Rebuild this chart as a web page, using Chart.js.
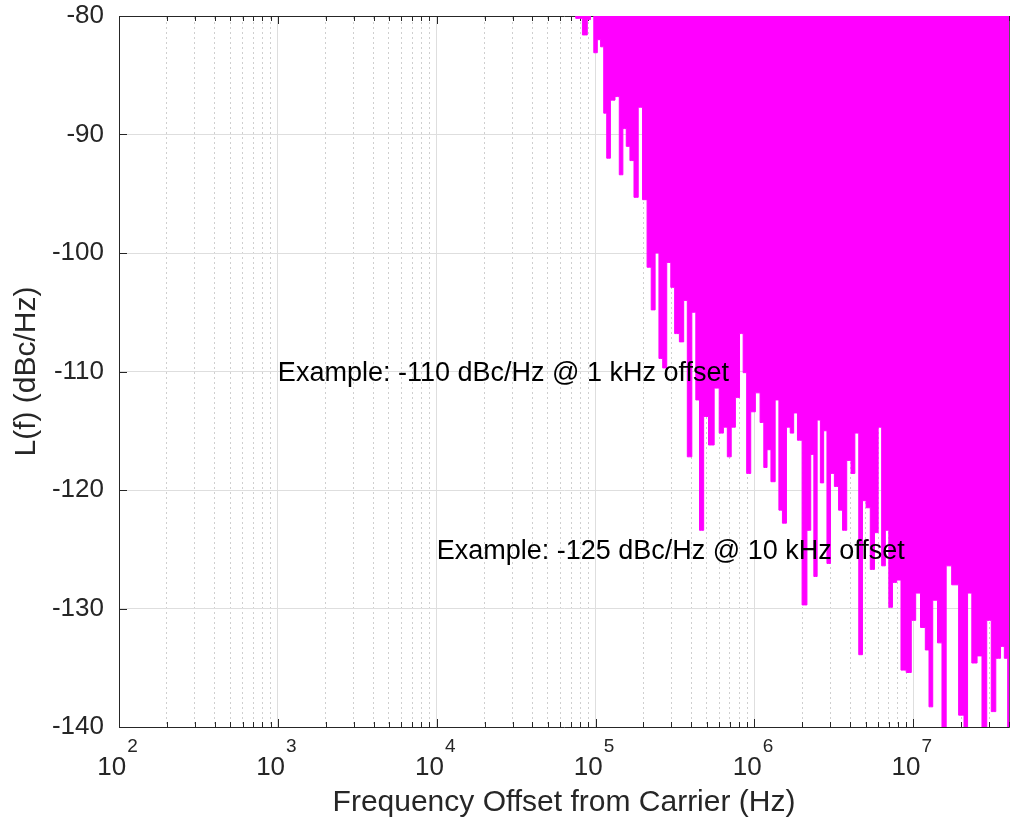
<!DOCTYPE html>
<html>
<head>
<meta charset="utf-8">
<script src="https://cdn.jsdelivr.net/npm/chart.js@4.4.1/dist/chart.umd.min.js"></script>
<style>
  html, body { margin: 0; padding: 0; background: #fff; }
  #caja { width: 1015px; height: 825px; }
</style>
</head>
<body>
<div id="caja"><canvas id="miGrafica"></canvas></div>
<script>
// lower edge of the noise trace (Hz, dBc/Hz)
const freqHz = [
  7.13e4, 7.89e4, 8.65e4, 9.08e4, 9.49e4, 1.00e5, 1.05e5, 1.10e5, 1.15e5, 1.20e5,
  1.28e5, 1.37e5, 1.45e5, 1.52e5, 1.60e5, 1.69e5, 1.80e5, 1.91e5, 2.04e5, 2.18e5,
  2.30e5, 2.44e5, 2.57e5, 2.72e5, 2.89e5, 3.06e5, 3.23e5, 3.51e5, 3.66e5, 3.90e5,
  4.17e5, 4.38e5, 4.64e5, 4.94e5, 5.34e5, 5.82e5, 6.18e5, 6.57e5, 6.93e5, 7.35e5,
  7.82e5, 8.29e5, 8.69e5, 9.18e5, 9.77e5, 1.05e6, 1.12e6, 1.17e6, 1.23e6, 1.31e6,
  1.39e6, 1.46e6, 1.54e6, 1.64e6, 1.72e6, 1.81e6, 1.92e6, 2.07e6, 2.21e6, 2.31e6,
  2.42e6, 2.54e6, 2.66e6, 2.79e6, 2.93e6, 3.09e6, 3.28e6, 3.49e6, 3.68e6, 3.94e6,
  4.17e6, 4.40e6, 4.67e6, 4.90e6, 5.19e6, 5.53e6, 5.86e6, 6.15e6, 6.49e6, 6.84e6,
  7.18e6, 7.60e6, 8.10e6, 8.63e6, 9.42e6, 1.00e7, 1.07e7, 1.15e7, 1.23e7, 1.28e7,
  1.37e7, 1.47e7, 1.56e7, 1.66e7, 1.83e7, 2.03e7, 2.14e7, 2.25e7, 2.42e7, 2.62e7,
  2.79e7, 3.01e7, 3.18e7, 3.43e7, 3.65e7, 3.83e7, 4.02e7
];
const levelDbc = [
  -79.0, -80.2, -81.6, -80.3, -79.8, -83.1, -82.0, -82.6, -88.2, -92.0,
  -87.1, -86.8, -93.4, -89.5, -91.0, -92.2, -95.3, -87.7, -95.5, -101.2,
  -104.8, -100.0, -108.9, -109.7, -100.8, -102.9, -106.8, -107.5, -104.0, -117.2,
  -105.0, -112.4, -123.4, -113.8, -116.2, -111.4, -115.2, -114.7, -117.2, -114.7,
  -112.2, -106.8, -110.1, -118.6, -113.4, -111.8, -114.3, -118.1, -116.6, -119.3,
  -112.4, -121.7, -122.8, -114.7, -115.2, -113.5, -115.8, -129.7, -123.4, -117.0,
  -127.3, -114.1, -119.4, -115.0, -126.2, -118.6, -119.7, -121.7, -123.4, -117.5,
  -118.6, -115.2, -133.9, -120.9, -121.5, -126.7, -123.6, -114.7, -126.4, -123.4,
  -129.9, -127.8, -127.6, -135.2, -135.4, -131.0, -128.7, -131.6, -133.5, -138.3,
  -129.3, -132.9, -141.0, -126.4, -128.0, -139.0, -141.0, -128.7, -134.6, -134.0,
  -141.0, -131.0, -138.7, -134.2, -133.2, -134.2, -141.0
];

const xDecades = [1e2, 1e3, 1e4, 1e5, 1e6, 1e7];
const xExponents = ['2', '3', '4', '5', '6', '7'];
const yTicks = [-140, -130, -120, -110, -100, -90, -80];

const noteText = ['Example: -110 dBc/Hz @ 1 kHz offset', 'Example: -125 dBc/Hz @ 10 kHz offset'];
const noteFreq = [1e3, 1e4];
const noteLevel = [-110, -125];

const xMin = 1e2;
const xMax = 4e7;
const fuente = "'Liberation Sans', Arial, Helvetica, sans-serif";
const gris = '#262626';

// 1..9 x each decade, for the grid
function marcasLog() {
  const v = [];
  xDecades.forEach(d => {
    for (let k = 1; k <= 9; k++) {
      if (k * d <= xMax) v.push(k * d);
    }
  });
  return v;
}
const esDecada = v => xDecades.some(d => Math.abs(d - v) < d * 1e-6);

const puntos = freqHz.map((f, i) => ({x: f, y: levelDbc[i]}));

const adornos = {
  id: 'adornos',
  beforeDatasetsDraw(chart) {
    const {ctx, chartArea: a, scales: {x, y}} = chart;
    ctx.save();
    ctx.strokeStyle = gris;
    ctx.lineWidth = 1;
    ctx.beginPath();
    marcasLog().forEach(v => {
      const px = Math.round(x.getPixelForValue(v)) + 0.5;
      const len = esDecada(v) ? 8 : 5;
      ctx.moveTo(px, a.bottom); ctx.lineTo(px, a.bottom - len);
      ctx.moveTo(px, a.top); ctx.lineTo(px, a.top + len);
    });
    yTicks.forEach(v => {
      const py = Math.round(y.getPixelForValue(v)) + 0.5;
      ctx.moveTo(a.left, py); ctx.lineTo(a.left + 8, py);
      ctx.moveTo(a.right, py); ctx.lineTo(a.right - 8, py);
    });
    ctx.stroke();
    ctx.restore();
  },
  afterDatasetsDraw(chart) {
    const {ctx, chartArea: a, scales: {x, y}} = chart;
    ctx.save();
    // text notes
    ctx.fillStyle = '#000';
    ctx.font = '27px ' + fuente;
    ctx.textAlign = 'left';
    ctx.textBaseline = 'middle';
    noteText.forEach((t, i) => {
      ctx.fillText(t, x.getPixelForValue(noteFreq[i]), y.getPixelForValue(noteLevel[i]) + 2);
    });
    // x tick labels 10^n
    ctx.fillStyle = gris;
    ctx.textBaseline = 'alphabetic';
    xDecades.forEach((d, i) => {
      const px = x.getPixelForValue(d);
      ctx.font = '26px ' + fuente;
      const w1 = ctx.measureText('10').width;
      ctx.font = '19px ' + fuente;
      const w2 = ctx.measureText(xExponents[i]).width;
      const x0 = px - (w1 + w2) / 2 - 2;
      ctx.font = '26px ' + fuente;
      ctx.fillText('10', x0, a.bottom + 48);
      ctx.font = '19px ' + fuente;
      ctx.fillText(xExponents[i], x0 + w1 + 1, a.bottom + 25);
    });
    ctx.restore();
  }
};

const myChart = new Chart(document.getElementById('miGrafica').getContext('2d'), {
  type: 'line',
  data: {
    datasets: [{
      data: puntos,
      borderColor: '#ff00ff',
      backgroundColor: '#ff00ff',
      borderWidth: 1,
      pointRadius: 0,
      stepped: 'middle',
      fill: 'end'
    }]
  },
  options: {
    responsive: true,
    maintainAspectRatio: false,
    animation: false,
    layout: {padding: {top: 16, right: 6, left: 0, bottom: 0}},
    plugins: {legend: {display: false}, tooltip: {enabled: false}},
    scales: {
      x: {
        type: 'logarithmic',
        position: 'bottom',
        min: xMin,
        max: xMax,
        afterBuildTicks: s => { s.ticks = marcasLog().map(v => ({value: v})); },
        afterFit: s => { s.height = 98; },
        ticks: {display: false},
        grid: {
          drawTicks: false,
          color: c => (c.tick && esDecada(c.tick.value)) ? '#dedede' : 'transparent'
        },
        border: {color: gris, width: 1},
        title: {
          display: true,
          text: 'Frequency Offset from Carrier (Hz)',
          color: gris,
          font: {size: 30, family: fuente},
          padding: {top: 0, bottom: 4}
        }
      },
      x2: {
        type: 'logarithmic',
        position: 'top',
        min: xMin,
        max: xMax,
        afterBuildTicks: s => { s.ticks = marcasLog().map(v => ({value: v})); },
        afterFit: s => { s.height = 0; },
        ticks: {display: false},
        grid: {
          drawTicks: false,
          color: c => (c.tick && !esDecada(c.tick.value)) ? '#cfcfcf' : 'transparent'
        },
        border: {color: gris, width: 1, dash: [2, 3]}
      },
      y: {
        type: 'linear',
        min: -140,
        max: -80,
        afterBuildTicks: s => { s.ticks = yTicks.map(v => ({value: v})); },
        afterFit: s => { s.width = 119; },
        ticks: {
          color: gris,
          padding: 0,
          font: {size: 26, family: fuente}
        },
        grid: {drawTicks: true, tickLength: 15, tickColor: 'transparent', color: '#dedede'},
        border: {color: gris, width: 1},
        title: {
          display: true,
          text: 'L(f) (dBc/Hz)',
          color: gris,
          font: {size: 30, family: fuente},
          padding: {top: 9, bottom: 0}
        }
      },
      y2: {
        type: 'linear',
        position: 'right',
        min: -140,
        max: -80,
        afterFit: s => { s.width = 0; },
        ticks: {display: false},
        grid: {drawTicks: false, drawOnChartArea: false},
        border: {color: '#5a5a5a', width: 1}
      }
    }
  },
  plugins: [adornos]
});
</script>
</body>
</html>
